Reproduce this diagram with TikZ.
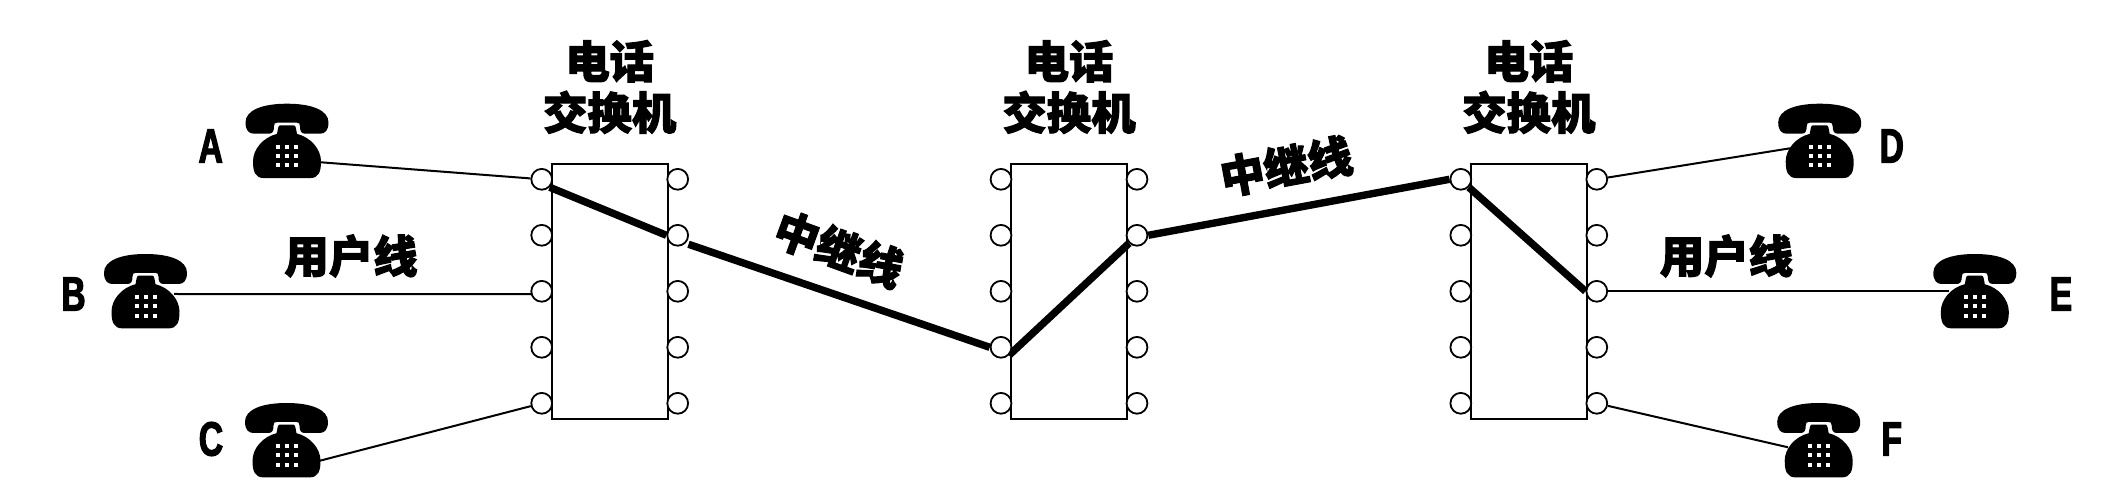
\documentclass[tikz,border=0pt]{standalone}
\usepackage{fontspec}
\newfontfamily\cjkfont[BoldFeatures={FakeBold=2.4}]{Noto Sans CJK SC}
\newfontfamily\latinfont[FakeStretch=0.7,BoldFeatures={FakeBold=2.4}]{Liberation Sans}
\usetikzlibrary{backgrounds}
\tikzstyle{switchbox} = [draw, line width=1pt, minimum width=58.2pt, minimum height=127.6pt, inner sep=0pt]
\tikzstyle{port} = [circle, draw, fill=white, line width=0.9pt, minimum size=10.4pt, inner sep=0pt]
\tikzstyle{subline} = [line width=1pt]
\tikzstyle{trunk} = [line width=3.7pt]
\tikzstyle{caption} = [font=\cjkfont\bfseries\fontsize{22.2}{25.7}\selectfont, align=center, inner sep=0pt]
\tikzstyle{letter} = [font=\latinfont\bfseries\fontsize{24}{25}\selectfont, inner sep=0pt]
\tikzstyle{phone} = [minimum width=43pt, minimum height=38pt, inner sep=0pt, path picture={
  \begin{scope}[shift={(path picture bounding box.center)}]
    \fill (-7,-15) -- (7,-15) .. controls (9,-15) and (9,-11) .. (10,-6.5)
      .. controls (24,-3) and (34,9) .. (34,21) .. controls (34,31) and (32,37.7) .. (23,37.7)
      -- (-23,37.7) .. controls (-32,37.7) and (-34,31) .. (-34,21)
      .. controls (-34,9) and (-24,-3) .. (-10,-6.5) .. controls (-9,-11) and (-9,-15) .. (-7,-15) -- cycle;
    \fill (0,-36.7) .. controls (25,-36.7) and (41.5,-30) .. (41.5,-18)
      .. controls (41.5,-10) and (38,-6.7) .. (33,-6.7) -- (18,-6.7)
      .. controls (14,-6.7) and (13,-10) .. (13,-14) .. controls (13,-17) and (12,-17.7) .. (10,-17.7)
      -- (-10,-17.7) .. controls (-12,-17.7) and (-13,-17) .. (-13,-14)
      .. controls (-13,-10) and (-14,-6.7) .. (-18,-6.7) -- (-33,-6.7)
      .. controls (-38,-6.7) and (-41.5,-10) .. (-41.5,-18) .. controls (-41.5,-30) and (-25,-36.7) .. (0,-36.7) -- cycle;
    \foreach \kx in {-9,0,9}
      \foreach \ky in {6.7,15.7,25}
        \fill[white] (\kx-2,\ky-2) rectangle +(4,4);
  \end{scope}}]

\begin{document}
\begin{tikzpicture}[x=0.5pt, y=-0.5pt]
    \useasboundingbox (0,0) rectangle (2120,496);

    % Switches and their ports
    \foreach \s/\x in {1/609.7, 2/1069, 3/1528.8} {
      \node[switchbox] (S\s) at (\x,291.3) {};
      \node[caption] (T\s) at (\x,87) {电话\\交换机};
      \foreach \i in {1,...,5} {
        \node[port] (S\s l\i) at (\x-68,179.3+56*\i-56) {};
        \node[port] (S\s r\i) at (\x+68,179.3+56*\i-56) {};
      }
    }

    % Phones
    \node[phone] (A) at (287,140.4) {};
    \node[phone] (B) at (145.5,290.7) {};
    \node[phone] (C) at (286.5,439.7) {};
    \node[phone] (D) at (1819.7,140.4) {};
    \node[phone] (E) at (1974.8,290.7) {};
    \node[phone] (F) at (1818.7,439.7) {};
    \coordinate (jackA) at (321,162.3);
    \coordinate (jackB) at (174,294);
    \coordinate (jackC) at (320,460.7);
    \coordinate (jackD) at (1790,148.3);
    \coordinate (jackE) at (1949,291.3);
    \coordinate (jackF) at (1788,447.3);

    % Letters
    \node[letter] (LA) at (210.7,146) {A};
    \node[letter] (LB) at (73.5,294) {B};
    \node[letter] (LC) at (211,439) {C};
    \node[letter] (LD) at (1891.7,146) {D};
    \node[letter] (LE) at (2061,294) {E};
    \node[letter] (LF) at (1891.7,439) {F};

    % Line names
    \node[caption] (U1) at (351,256) {用户线};
    \node[caption] (U2) at (1726.4,256) {用户线};
    \node[caption, rotate=-20] (M1) at (839,249) {中继线};
    \node[caption, rotate=10.5] (M2) at (1286,166) {中继线};

    %Edges
    \begin{scope}[on background layer]
      \draw[subline] (jackA) -- (S1l1);
      \draw[subline] (jackB) -- (S1l3.195);
      \draw[subline] (jackC) -- (S1l5);
      \draw[subline] (S3r1) -- (jackD);
      \draw[subline] (S3r3) -- (jackE);
      \draw[subline] (S3r5) -- (jackF);
      \draw[trunk] (S1l1.south east) -- (S1r2.west);
      \draw[trunk, shorten <=1.5pt] (S1r2.south east) -- (S2l4.west);
      \draw[trunk] (S2l4.south east) -- (S2r2.south west);
      \draw[trunk] (S2r2.east) -- (S3l1.west);
      \draw[trunk] (S3l1.south east) -- (S3r3.west);
    \end{scope}

\end{tikzpicture}
\end{document}
